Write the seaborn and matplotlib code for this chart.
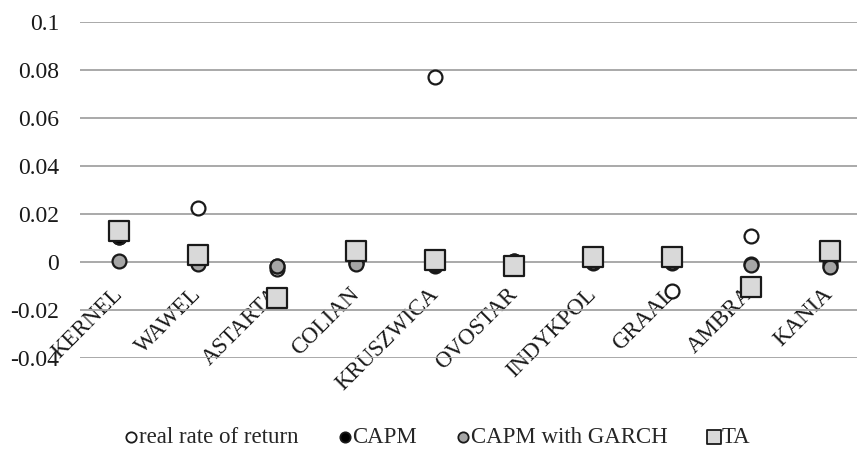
import pandas as pd
import matplotlib
matplotlib.use("Agg")
import matplotlib.pyplot as plt
import seaborn as sns

# ======================
# data
# ======================
companies = ['KERNEL', 'WAWEL', 'ASTARTA', 'COLIAN', 'KRUSZWICA',
             'OVOSTAR', 'INDYKPOL', 'GRAAL', 'AMBRA', 'KANIA']
real_return = [0.0105, 0.0225, -0.003, 0.0, 0.077, 0.0003, 0.0, -0.012, 0.011, -0.0005]
capm = [0.0105, -0.0005, -0.0015, -0.0005, -0.0015, 0.0005, -0.0005, -0.0005, -0.001, -0.0015]
capm_garch = [0.0005, -0.001, -0.0015, -0.0008, -0.001, 0.0, 0.0, 0.0, -0.0013, -0.002]
ta = [0.013, 0.003, -0.015, 0.0047, 0.001, -0.0015, 0.002, 0.002, -0.0105, 0.0045]

y_ticks = [-0.04, -0.02, 0, 0.02, 0.04, 0.06, 0.08, 0.1]
y_tick_labels = ['-0.04', '-0.02', '0', '0.02', '0.04', '0.06', '0.08', '0.1']

series = [
    ('real rate of return', real_return, 'o', 'white', 100),
    ('CAPM', capm, 'o', 'black', 100),
    ('CAPM with GARCH', capm_garch, 'o', '#a6a6a6', 100),
    ('TA', ta, 's', '#d9d9d9', 210),
]

sns.set_style('white')
plt.rcParams['font.family'] = ['Liberation Serif', 'DejaVu Serif']

fig = plt.figure(figsize=(8.57, 4.53), dpi=100)
ax = fig.add_axes([80 / 857, 1 - 358 / 453, 789 / 857, 336 / 453])

for name, vals, mk, fill, size in series:
    df = pd.DataFrame({'company': companies, 'value': vals})
    sns.scatterplot(data=df, x='company', y='value', marker=mk, s=size,
                    color=fill, edgecolor='#1a1a1a', linewidth=1.6,
                    label=name, ax=ax, zorder=5, clip_on=False)

ax.set_xlim(-0.5, len(companies) - 0.5)
ax.set_ylim(-0.04, 0.1)
ax.set_yticks(y_ticks)
ax.set_yticklabels(y_tick_labels)
ax.yaxis.grid(True, color='#a3a3a3', linewidth=1.3)
ax.xaxis.grid(False)
for s in ax.spines.values():
    s.set_visible(False)
ax.set_xlabel('')
ax.set_ylabel('')

ax.tick_params(axis='y', length=0, pad=15, labelsize=17, labelcolor='#1a1a1a')
ax.spines['bottom'].set_position(('data', 0))
ax.tick_params(axis='x', length=0, pad=21, labelsize=16.5, labelcolor='#1a1a1a')
for lbl in ax.get_xticklabels():
    lbl.set_rotation(45)
    lbl.set_ha('right')
    lbl.set_va('center')
    lbl.set_rotation_mode('anchor')
    lbl.set_zorder(4)

ax.legend(loc='center', ncol=4, frameon=False, fontsize=16.5,
          handletextpad=0.0, columnspacing=1.7, handlelength=0.65)
leg = ax.get_legend()
# smaller markers in the legend than on the plot
for h, sz in zip(leg.legend_handles, [55, 55, 55, 95]):
    h.set_sizes([sz])
    h.set_linewidth(1.3)
leg.set_bbox_to_anchor((437 / 857, 1 - 437 / 453), transform=fig.transFigure)

fig.savefig('out.png', dpi=100)
